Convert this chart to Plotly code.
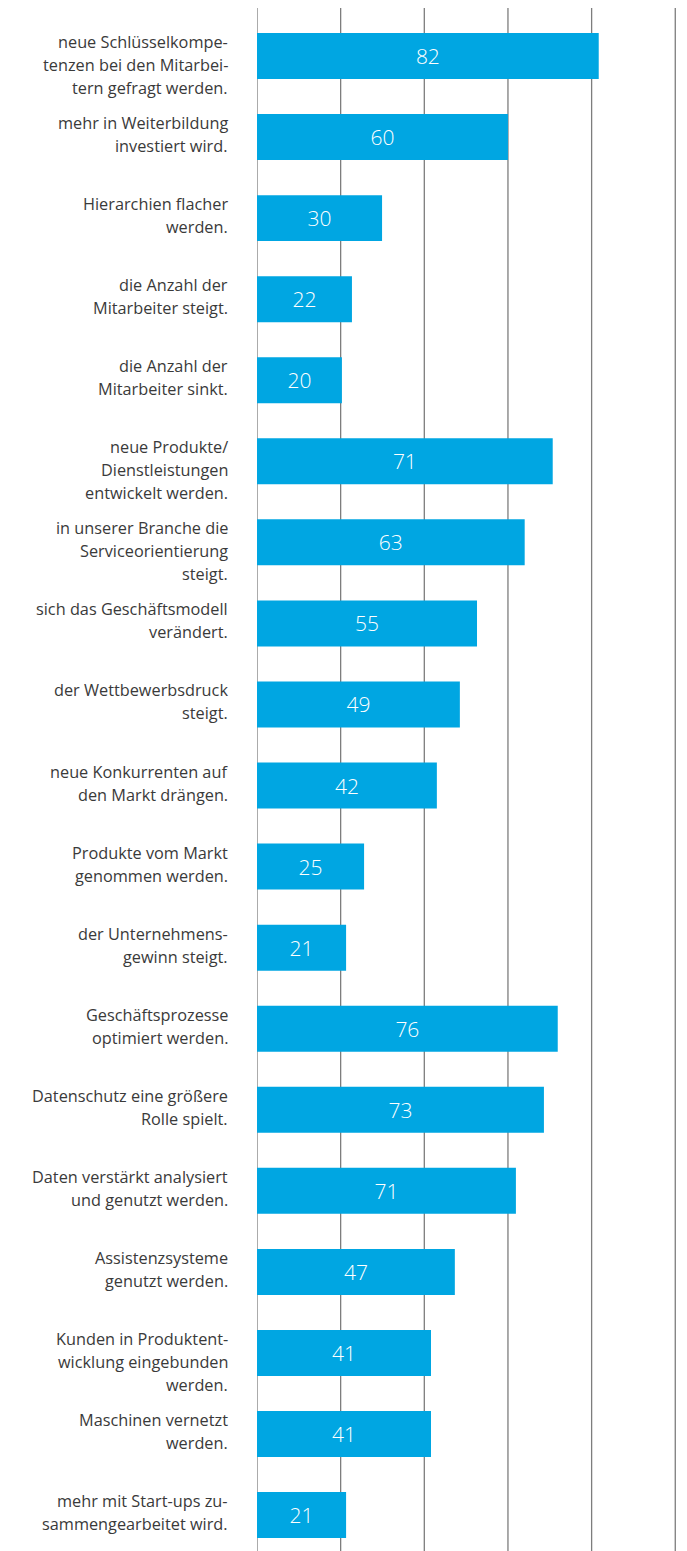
import plotly.graph_objects as go

# Category labels (line breaks as in the reference)
labels = [
    "neue Schlüsselkompe-<br>tenzen bei den Mitarbei-<br>tern gefragt werden.",
    "mehr in Weiterbildung<br>investiert wird.",
    "Hierarchien flacher<br>werden.",
    "die Anzahl der<br>Mitarbeiter steigt.",
    "die Anzahl der<br>Mitarbeiter sinkt.",
    "neue Produkte/<br>Dienstleistungen<br>entwickelt werden.",
    "in unserer Branche die<br>Serviceorientierung<br>steigt.",
    "sich das Geschäftsmodell<br>verändert.",
    "der Wettbewerbsdruck<br>steigt.",
    "neue Konkurrenten auf<br>den Markt drängen.",
    "Produkte vom Markt<br>genommen werden.",
    "der Unternehmens-<br>gewinn steigt.",
    "Geschäftsprozesse<br>optimiert werden.",
    "Datenschutz eine größere<br>Rolle spielt.",
    "Daten verstärkt analysiert<br>und genutzt werden.",
    "Assistenzsysteme<br>genutzt werden.",
    "Kunden in Produktent-<br>wicklung eingebunden<br>werden.",
    "Maschinen vernetzt<br>werden.",
    "mehr mit Start-ups zu-<br>sammengearbeitet wird.",
]

# Values printed in the bars
shown_values = [82, 60, 30, 22, 20, 71, 63, 55, 49, 42, 25, 21, 76, 73, 71, 47, 41, 41, 21]

# Bar lengths as drawn in the reference
bar_lengths = [81.7, 60.0, 29.9, 22.7, 20.3, 70.7, 64.0, 52.6, 48.5, 43.0,
               25.6, 21.3, 71.9, 68.6, 61.9, 47.3, 41.6, 41.6, 21.3]

grid_ticks = [0, 20, 40, 60, 80, 100]

categories = [lab.replace("<br>", " ") for lab in labels]

BAR_COLOR = "#00A6E2"
GRID_COLOR = "#7d7d7d"
TEXT_COLOR = "#3a3a3a"

fig = go.Figure()
fig.add_trace(go.Bar(
    x=bar_lengths,
    y=categories,
    orientation="h",
    width=0.567,
    marker=dict(color=BAR_COLOR, line=dict(width=0)),
    text=[str(v) for v in shown_values],
    textposition="inside",
    insidetextanchor="middle",
    textangle=0,
    textfont=dict(family="Open Sans", size=21, color="white", weight=300),
    hoverinfo="skip",
))

annotations = []
for cat, lab in zip(categories, labels):
    lines = lab.split("<br>")
    for k, line in enumerate(lines):
        annotations.append(dict(
            x=0, xref="paper", y=cat, yref="y",
            text=line, showarrow=False,
            xanchor="right", yanchor="middle",
            xshift=-27, yshift=14 - k * 23,
            font=dict(family="Open Sans", size=16.3, color=TEXT_COLOR),
        ))

# Vertical grid lines drawn as shapes below the bars
shapes = [
    dict(type="line", xref="x", yref="paper", x0=t, x1=t, y0=0, y1=1,
         line=dict(color=GRID_COLOR, width=1.3), layer="below")
    for t in grid_ticks
]

fig.update_layout(
    width=687, height=1543,
    margin=dict(l=249, r=3, t=0, b=0, pad=0),
    paper_bgcolor="white", plot_bgcolor="white",
    showlegend=False,
    annotations=annotations,
    shapes=shapes,
    xaxis=dict(
        range=[0, 104],
        showticklabels=False,
        showgrid=False,
        zeroline=False,
        showline=False, ticks="",
        fixedrange=True,
    ),
    yaxis=dict(
        type="category",
        categoryorder="array", categoryarray=categories,
        range=[18.443, -0.592],
        showticklabels=False, showgrid=False, zeroline=False,
        showline=False, ticks="",
        fixedrange=True,
    ),
)

fig.write_html("out.html")
